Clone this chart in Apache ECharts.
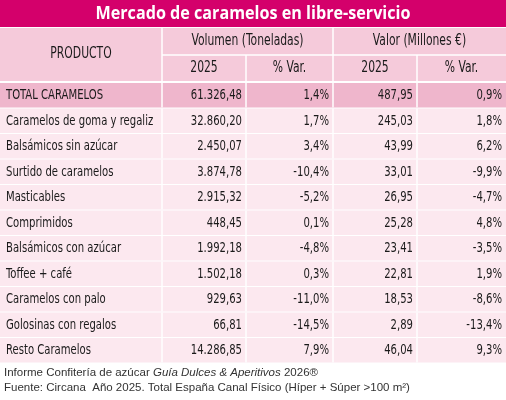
<!DOCTYPE html>
<html><head><meta charset="utf-8">
<script src="https://cdn.jsdelivr.net/npm/echarts@6/dist/echarts.min.js"></script>
<style>html,body{margin:0;padding:0;background:#fff}#c{width:506px;height:400px}</style>
</head><body><div id="c"></div>
<script>
const title = 'Mercado de caramelos en libre-servicio';
const products = ['TOTAL CARAMELOS','Caramelos de goma y regaliz','Balsámicos sin azúcar','Surtido de caramelos','Masticables','Comprimidos','Balsámicos con azúcar','Toffee + café','Caramelos con palo','Golosinas con regalos','Resto Caramelos'];
const volumen = ['61.326,48','32.860,20','2.450,07','3.874,78','2.915,32','448,45','1.992,18','1.502,18','929,63','66,81','14.286,85'];
const volVar = ['1,4%','1,7%','3,4%','-10,4%','-5,2%','0,1%','-4,8%','0,3%','-11,0%','-14,5%','7,9%'];
const valor = ['487,95','245,03','43,99','33,01','26,95','25,28','23,41','22,81','18,53','2,89','46,04'];
const valVar = ['0,9%','1,8%','6,2%','-9,9%','-4,7%','4,8%','-3,5%','1,9%','-8,6%','-13,4%','9,3%'];
const headers = ['PRODUCTO','Volumen (Toneladas)','Valor (Millones €)','2025','% Var.'];
const footer1 = 'Informe Confitería de azúcar ';
const footer2 = 'Guía Dulces & Aperitivos';
const footer3 = ' 2026®';
const footer4 = 'Fuente: Circana  Año 2025. Total España Canal Físico (Híper + Súper >100 m²)';

const F = '"DejaVu Sans Condensed","Liberation Sans Narrow",sans-serif';
const cols = [0,162,246,333,417,506];
const rowTop = 82, rowH = 25.5;
const g = [];
function rect(x,y,w,h,fill){g.push({type:'rect',shape:{x,y,width:w,height:h},style:{fill}});}
function text(x,y,t,align,opt,sx){g.push({type:'text',x,y,scaleX:sx===undefined?0.8:sx,style:Object.assign({text:t,fill:'#1a1a1a',font:'14px '+F,align,verticalAlign:'middle'},opt||{})});}
rect(0,0,506,27,'#d4006b');
text(253,14,title,'center',{fill:'#fff',font:'bold 17px "Open Sans",sans-serif'},0.95);
rect(0,28,506,53,'#f5cada');
g.push({type:'line',shape:{x1:cols[1],y1:28,x2:cols[1],y2:81},style:{stroke:'#fff',lineWidth:1.5}});
g.push({type:'line',shape:{x1:cols[3],y1:28,x2:cols[3],y2:81},style:{stroke:'#fff',lineWidth:1.5}});
g.push({type:'line',shape:{x1:cols[1],y1:55,x2:506,y2:55},style:{stroke:'#fff',lineWidth:1.5}});
[2,4].forEach(i=>g.push({type:'line',shape:{x1:cols[i],y1:55,x2:cols[i],y2:81},style:{stroke:'#fff',lineWidth:1.5}}));
const H={font:'15px '+F};
text(81,54,headers[0],'center',H);
text((cols[1]+cols[3])/2,41,headers[1],'center',H);
text((cols[3]+cols[5])/2,41,headers[2],'center',H);
text((cols[1]+cols[2])/2,68,headers[3],'center',H);
text((cols[2]+cols[3])/2,68,headers[4],'center',H);
text((cols[3]+cols[4])/2,68,headers[3],'center',H);
text((cols[4]+cols[5])/2,68,headers[4],'center',H);
products.forEach((p,i)=>{
  const y=rowTop+i*rowH;
  rect(0,y+1,506,rowH-1, i===0?'#efb6cc':'#fce8ef');
  for(let k=1;k<5;k++) g.push({type:'line',shape:{x1:cols[k],y1:y+1,x2:cols[k],y2:y+rowH},style:{stroke:'#fff',lineWidth:1.5}});
  const cy=y+rowH/2+1;
  text(6,cy,p,'left');
  text(cols[2]-4,cy,volumen[i],'right');
  text(cols[3]-4,cy,volVar[i],'right');
  text(cols[4]-4,cy,valor[i],'right');
  text(cols[5]-4,cy,valVar[i],'right');
});
const FF='11.5px "Liberation Sans",Arial,sans-serif';
g.push({type:'text',x:4,y:373,style:{rich:{a:{font:FF,fill:'#333'},b:{font:'italic '+FF,fill:'#333'}},text:'{a|'+footer1+'}{b|'+footer2+'}{a|'+footer3+'}',verticalAlign:'middle'}});
text(4,388,footer4,'left',{font:FF,fill:'#333'},1);
const chart=echarts.init(document.getElementById('c'));
chart.setOption({animation:false,graphic:{elements:g}});
</script></body></html>
